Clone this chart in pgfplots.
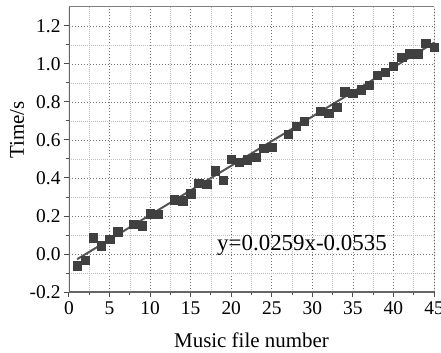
\documentclass[border=0pt]{standalone}
\usepackage{pgfplots}
\pgfplotsset{compat=1.18}
\usepackage{fontspec}
\setmainfont{Liberation Serif}
\definecolor{mk}{HTML}{404040}
\definecolor{ln}{HTML}{555555}
\begin{document}
\begin{tikzpicture}
\begin{axis}[
  scale only axis,
  width=365bp, height=285bp,
  xmin=0, xmax=45, ymin=-0.2, ymax=1.3,
  xtick={0,5,...,45},
  ytick={-0.2,0,0.2,0.4,0.6,0.8,1.0,1.2},
  /pgf/number format/assume math mode=true,
  xticklabel={\pgfmathprintnumber{\tick}},
  yticklabel={\pgfmathprintnumber[fixed,fixed zerofill,precision=1]{\tick}},
  minor x tick num=1, minor y tick num=1,
  grid=both,
  major grid style={dash pattern=on 1.5bp off 1.5bp, color=black!55, line width=0.6bp},
  minor grid style={dash pattern=on 1bp off 1bp, color=black!25, line width=0.6bp},
  tick align=outside,
  xtick pos=bottom, ytick pos=left,
  major tick length=5bp, minor tick length=3bp,
  tick style={color=black!70, line width=1bp},
  axis line style={draw=none},
  ticklabel style={font=\fontsize{19.5}{22}\selectfont, color=black},
  xticklabel style={yshift=-1bp},
  label style={font=\fontsize{21}{24}\selectfont},
  xlabel={Music file number},
  ylabel={Time/s},
  xlabel style={at={(axis description cs:0.5,-0.193)}, anchor=base},
  ylabel style={at={(axis description cs:-0.142,0.568)}, anchor=center},
  clip mode=global,
]
\addplot[ln, line width=2bp] coordinates {(1,-0.0276) (45,1.112)};
\addplot[only marks, mark=square*, mark size=4.2bp, mark options={fill=mk, draw=mk}] coordinates {
(1,-0.062) (2,-0.032) (3,0.086) (4,0.044) (5,0.079) (6,0.118) (8,0.157) (9,0.150)
(10,0.212) (11,0.209) (13,0.285) (14,0.280) (15,0.317) (16,0.373) (17,0.368) (18,0.438)
(19,0.390) (20,0.500) (21,0.484) (22,0.496) (23,0.510) (24,0.558) (25,0.563) (27,0.630)
(28,0.672) (29,0.698) (31,0.751) (32,0.742) (33,0.774) (34,0.855) (35,0.846) (36,0.864)
(37,0.887) (38,0.942) (39,0.958) (40,0.988) (41,1.035) (42,1.055) (43,1.055) (44,1.110)
(45,1.088)};
\node[anchor=base west, font=\fontsize{23}{26}\selectfont, inner sep=0pt] at (axis cs:18.25,0.021) {y=0.0259x-0.0535};
\draw[black!50, line width=1bp] (rel axis cs:0,1) -- (rel axis cs:1,1);
\draw[black, line width=1bp] (rel axis cs:1,0) -- (rel axis cs:1,1);
\draw[black!60, line width=1.6bp] (rel axis cs:0,0) -- (rel axis cs:1,0);
\draw[black!60, line width=1.6bp] (rel axis cs:0,0) -- (rel axis cs:0,1);
\coordinate (bl) at (rel axis cs:0,0);
\coordinate (tr) at (rel axis cs:1,1);
\end{axis}
\pgfresetboundingbox
\path ([shift={(-69bp,-61bp)}]bl) rectangle ([shift={(7bp,7bp)}]tr);
\end{tikzpicture}
\end{document}
